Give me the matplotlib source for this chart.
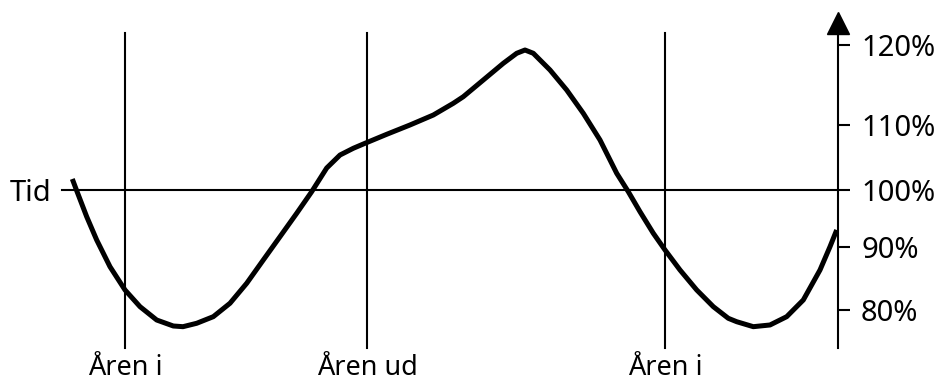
import matplotlib
matplotlib.use('Agg')
import matplotlib.pyplot as plt

plt.rcParams['font.family'] = ['Noto Sans', 'DejaVu Sans']

# curve: x in time units, y in percent
curve_x = [7.23, 7.67, 8.67, 9.67, 11.0, 12.5, 14.0, 15.67, 17.33, 18.3, 19.67,
           21.33, 23.0, 24.67, 26.33, 28.0, 29.67, 31.17, 32.67, 34.0, 35.33,
           36.5, 38.67, 41.0, 43.33, 45.33, 46.33, 48.33, 50.33, 51.67, 52.5,
           53.33, 55.0, 56.67, 58.33, 60.0, 61.67, 62.83, 64.0, 65.33, 66.5,
           68.0, 69.67, 71.33, 72.83, 73.67, 75.33, 77.0, 78.67, 80.33, 82.0,
           83.0, 83.67]
curve_y = [101.83, 99.97, 95.84, 92.14, 87.90, 84.21, 81.56, 79.44, 78.49, 78.38, 78.92,
           79.97, 82.10, 85.27, 88.97, 92.67, 96.38, 99.81, 103.57, 105.63, 106.70,
           107.49, 108.92, 110.40, 111.98, 113.84, 114.89, 117.54, 120.19, 121.78, 122.30,
           121.78, 119.13, 115.95, 112.25, 108.02, 102.73, 99.81, 96.63, 93.21, 90.56,
           87.38, 84.21, 81.56, 79.71, 79.17, 78.38, 78.65, 79.97, 82.62, 87.38,
           91.08, 93.73]

marker_x = [12.5, 36.7, 66.5]
marker_labels = ['Åren i', 'Åren ud', 'Åren i']

tick_pos = [81.0, 91.0, 100.0, 110.4, 123.1]
tick_labels = ['80%', '90%', '100%', '110%', '120%']

axis_x = 83.8
y_low, y_high = 75.0, 125.0

fig = plt.figure(figsize=(9.39, 3.83), dpi=100)
ax = fig.add_axes([0, 0, 1, 1])
ax.set_xlim(0, 93.9)
ax.set_ylim(69.44, 130.24)

for s in ['left', 'top', 'bottom']:
    ax.spines[s].set_visible(False)
ax.spines['right'].set_position(('data', axis_x))
ax.spines['right'].set_bounds(y_low, y_high)
ax.spines['right'].set_linewidth(1.5)
ax.set_xticks([])
ax.yaxis.tick_right()
ax.set_yticks(tick_pos)
ax.set_yticklabels(tick_labels)
ax.tick_params(axis='y', direction='out', length=8.6, width=1.5, pad=8, labelsize=21)

# arrow head on the axis
ax.plot([axis_x], [126.6], marker='^', markersize=16, color='black', clip_on=False)

# reference lines
ax.plot([6.2, axis_x], [100, 100], color='black', lw=1.5)
for xv, lab in zip(marker_x, marker_labels):
    ax.plot([xv, xv], [y_low, y_high], color='black', lw=1.5)
    ax.text(xv, 69.6, lab, ha='center', va='bottom', fontsize=19.5)

ax.text(5.1, 100, 'Tid', ha='right', va='center_baseline', fontsize=21)

ax.plot(curve_x, curve_y, color='black', lw=3.6, solid_joinstyle='round',
        solid_capstyle='butt')

fig.savefig('out.png', dpi=100)
